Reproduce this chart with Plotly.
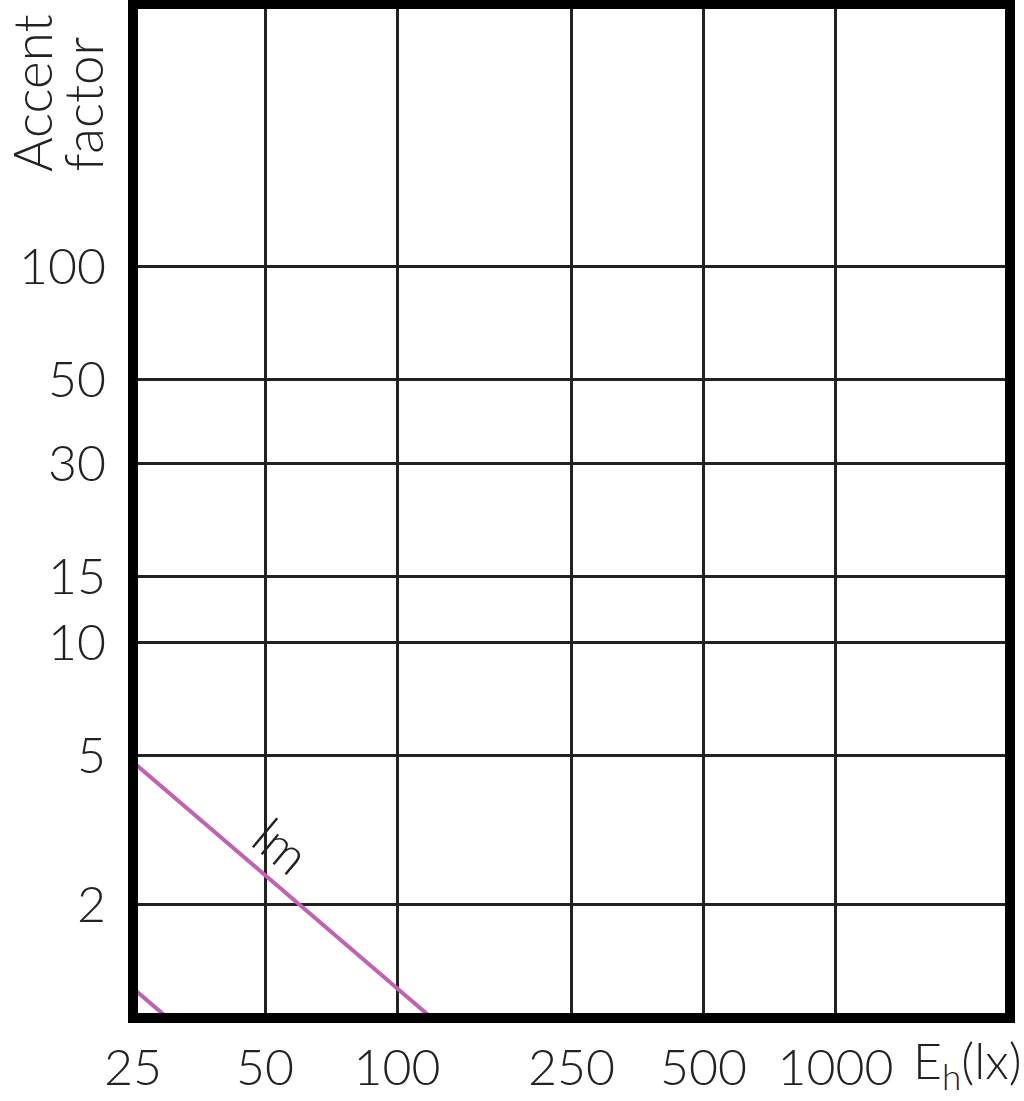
import math
import plotly.graph_objects as go

# Data
x_ticks = [25, 50, 100, 250, 500, 1000]
y_ticks = [2, 5, 10, 15, 30, 50, 100]
line_a_e = [25, 120]
line_a_f = [4.8, 1.0]
line_b_e = [25, 30]
line_b_f = [1.2, 1.0]
curve_label = "lm"
label_e, label_f = 54.5, 2.88

FONT = "Lato"
MAG = "#C061B3"
TXT = "#222222"
fig = go.Figure()
for xs, ys in [(line_a_e, line_a_f), (line_b_e, line_b_f)]:
    fig.add_trace(go.Scatter(x=xs, y=ys, mode="lines",
                             line=dict(color=MAG, width=4),
                             showlegend=False, hoverinfo="skip"))

fig.add_annotation(x=math.log10(label_e), y=math.log10(label_f), xref="x", yref="y",
                   text=curve_label, showarrow=False, textangle=40,
                   font=dict(family=FONT, size=52, color=TXT, weight=300))
for txt, xs in [("Accent", -102), ("factor", -51)]:
    fig.add_annotation(x=0, y=1, xref="paper", yref="paper", xanchor="center", yanchor="bottom",
                       xshift=xs, yshift=-170,
                       text=txt, showarrow=False, textangle=-90,
                       font=dict(family=FONT, size=53, color=TXT, weight=300))
fig.add_annotation(x=1, y=0, xref="paper", yref="paper", xanchor="right", yanchor="top",
                   xshift=14, yshift=-10,
                   text="E<sub>h</sub>(lx)",
                   showarrow=False,
                   font=dict(family=FONT, size=50, color=TXT, weight=300))

# frame centred on the plot-area edge
fig.add_shape(type="rect", xref="paper", yref="paper", x0=0, x1=1, y0=0, y1=1,
              line=dict(color="black", width=10), layer="above")

axis_common = dict(showline=False, showgrid=True, gridcolor="#222", gridwidth=2.5,
                   zeroline=False, automargin=False,
                   ticks="", tickfont=dict(family=FONT, size=50, color=TXT, weight=300))
fig.update_xaxes(type="log", range=[math.log10(25), math.log10(2500)],
                 tickvals=x_ticks, ticktext=[str(v) for v in x_ticks],
                 ticklabelstandoff=16, **axis_common)
fig.update_yaxes(type="log", range=[0, math.log10(500)],
                 tickvals=y_ticks, ticktext=[str(v) for v in y_ticks],
                 ticklabelstandoff=26, **axis_common)
fig.update_layout(width=1024, height=1101, margin=dict(l=133, r=14, t=4, b=83),
                  plot_bgcolor="white", paper_bgcolor="white")
fig.write_html("out.html", config={"displayModeBar": False},
               post_script="document.body.style.margin='0';")
